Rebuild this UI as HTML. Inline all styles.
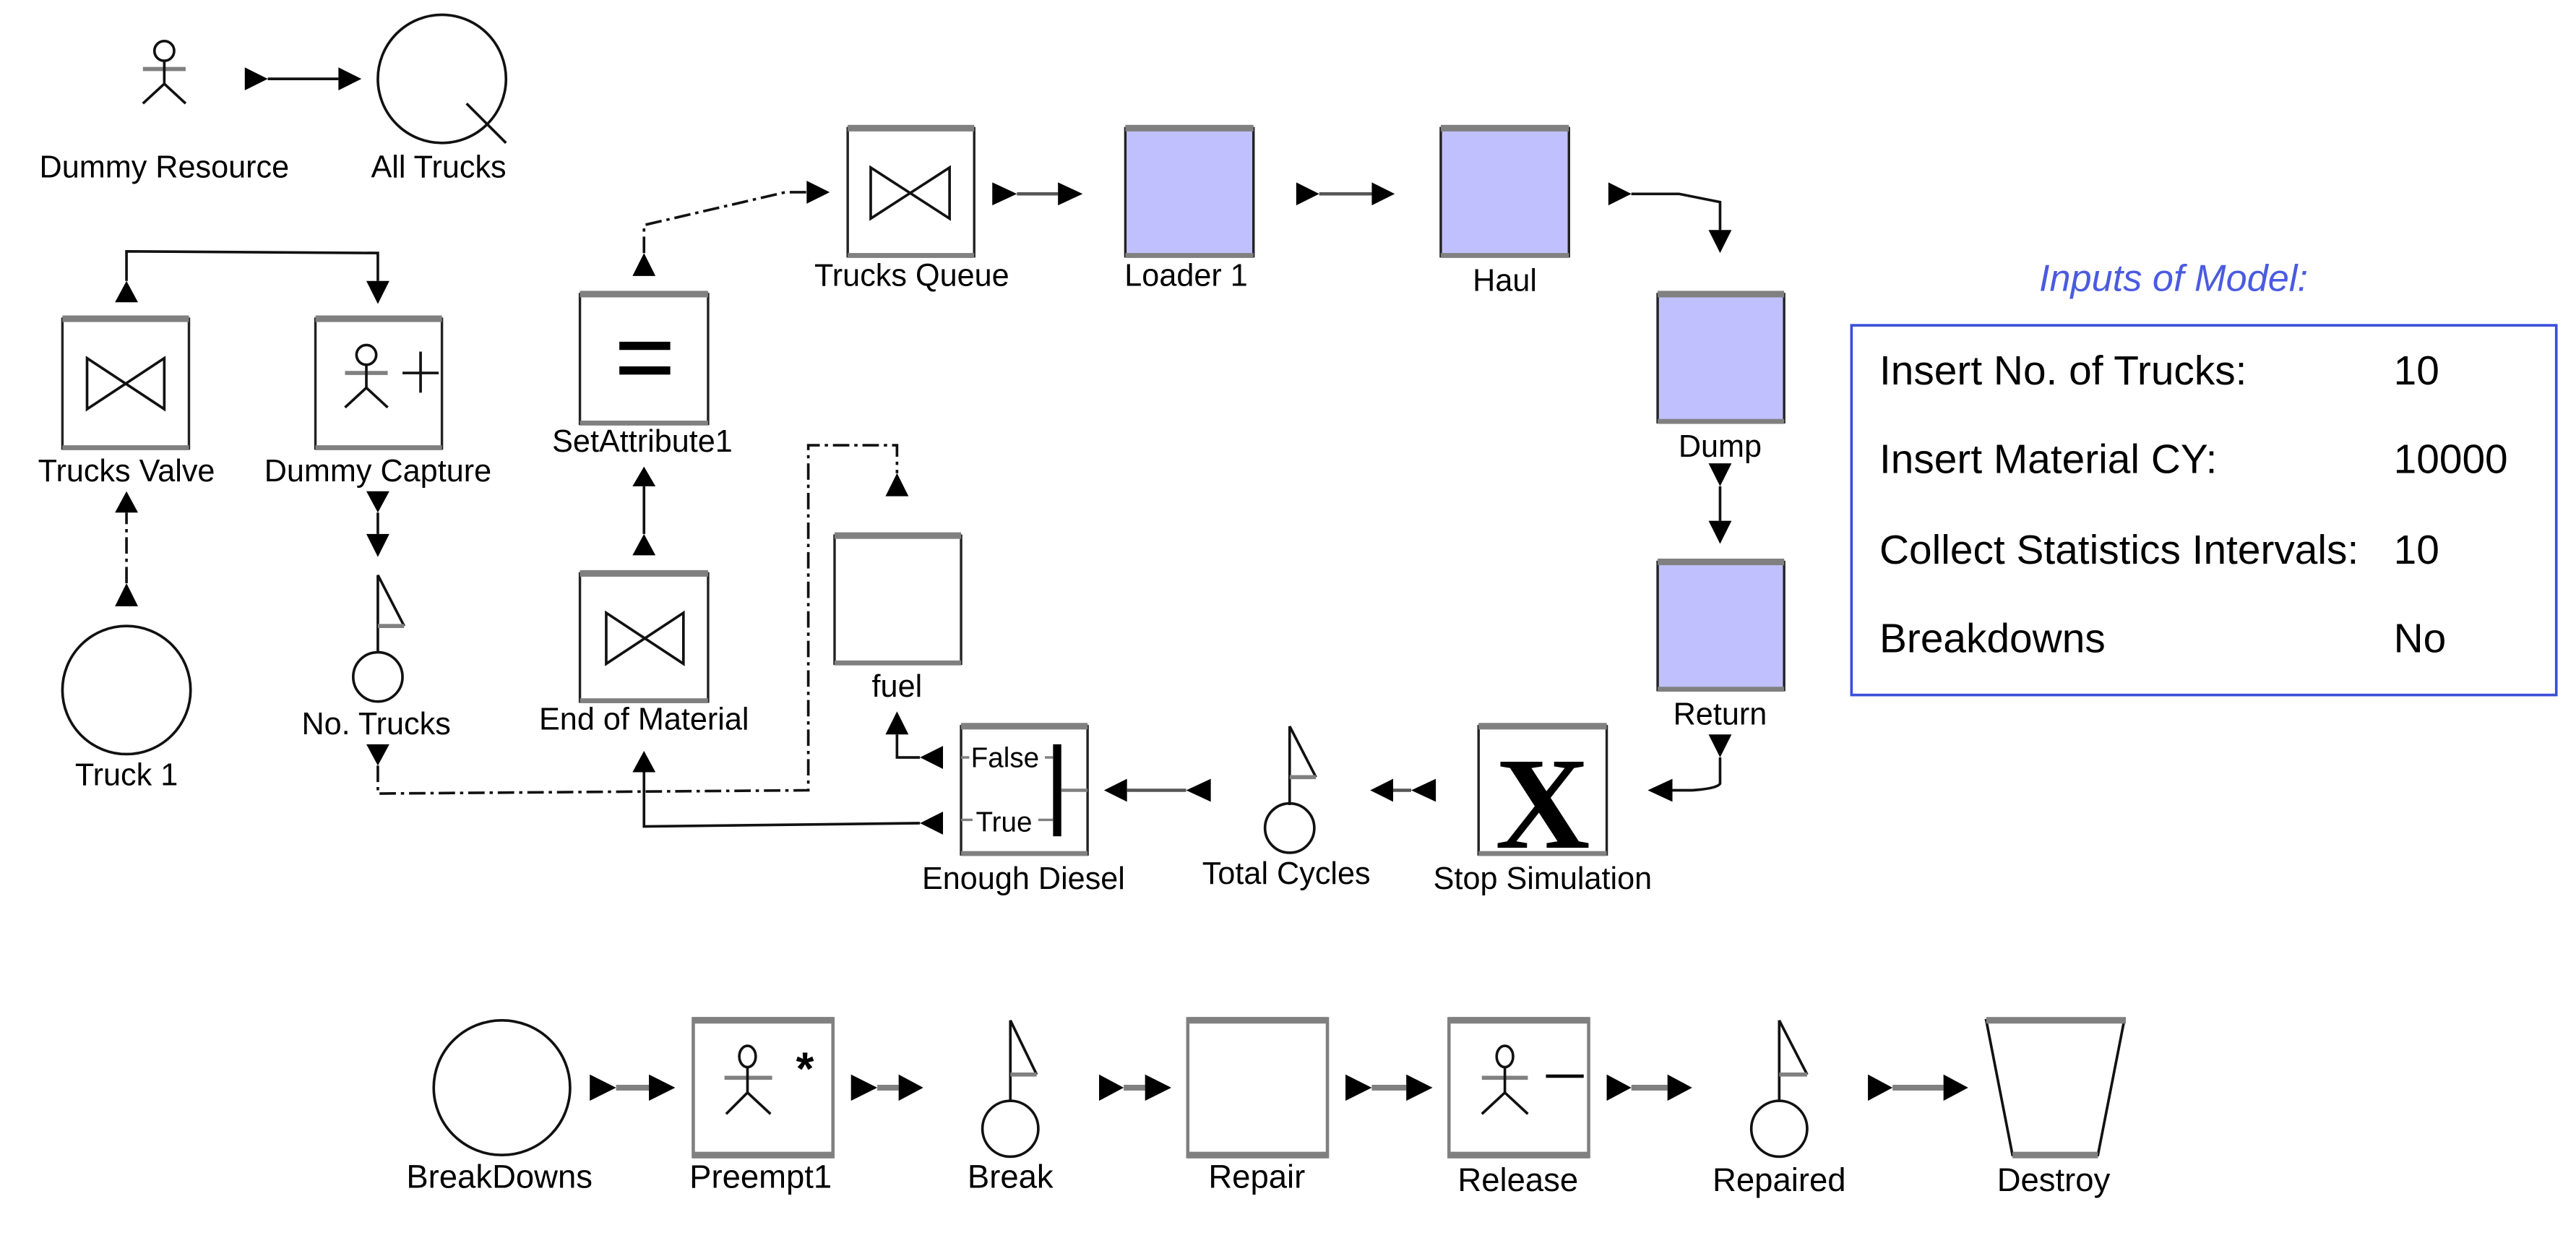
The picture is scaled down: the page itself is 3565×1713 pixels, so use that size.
<!DOCTYPE html>
<html><head><meta charset="utf-8">
<style>
html,body{margin:0;padding:0;background:#fff;}
svg{display:block;}
text{font-family:"Liberation Sans",Arial,sans-serif;fill:#000;}
</style></head>
<body>
<svg width="3565" height="1713" viewBox="0 0 1568 753.5" preserveAspectRatio="none" xmlns="http://www.w3.org/2000/svg">
<defs>
<style>
.ln{stroke:#111;stroke-width:1.6;fill:none}
.dd{stroke:#111;stroke-width:1.6;fill:none;stroke-dasharray:10 3 2 3}
.g{stroke:#808080;stroke-width:3.5;fill:none}
.bx{fill:#fff;stroke:#222;stroke-width:1.5}
.pb{fill:#c0c0ff;stroke:#222;stroke-width:1.5}
.tb{fill:#808080}
.lb{font-size:19px;text-anchor:middle}
.lb2{font-size:20px;text-anchor:middle}
.tri{fill:#000}
</style>
</defs>

<!-- Dummy Resource -->
<circle cx="100" cy="31" r="6" class="ln" stroke-width="1.2"/>
<line x1="87" y1="42" x2="113" y2="42" stroke="#808080" stroke-width="2.5"/>
<line x1="100" y1="37" x2="100" y2="51" class="ln" stroke-width="1.2"/>
<polyline points="87,63 100,51 113,63" class="ln" stroke-width="1.2"/>
<text x="100" y="108" class="lb">Dummy Resource</text>
<polygon class="tri" points="149,41 163,48 149,55"/>
<line x1="163" y1="48" x2="206" y2="48" class="ln"/>
<polygon class="tri" points="206,41 220,48 206,55"/>
<circle cx="269" cy="48" r="39" class="ln" stroke-width="1.3"/>
<line x1="284" y1="63" x2="308" y2="87" class="ln" stroke-width="1.3"/>
<text x="267" y="108" class="lb">All Trucks</text>

<!-- Valve / Capture connector -->
<polyline points="77,171 77,153 230,154 230,171" class="ln"/>
<polygon class="tri" points="70,184 77,171 84,184"/>
<polygon class="tri" points="223,171 230,185 237,171"/>

<!-- Trucks Valve -->
<rect x="38" y="194" width="77" height="79" class="bx"/>
<rect x="38" y="192" width="77" height="4" class="tb"/><rect x="38" y="271" width="77" height="3" class="tb"/>
<path d="M53 218 L53 249 L100 218 L100 249 Z" class="ln" stroke-width="1.3"/>
<text x="77" y="293" class="lb">Trucks Valve</text>

<!-- Dummy Capture -->
<rect x="192" y="194" width="77" height="79" class="bx"/>
<rect x="192" y="192" width="77" height="4" class="tb"/><rect x="192" y="271" width="77" height="3" class="tb"/>
<circle cx="223" cy="216" r="6" class="ln" stroke-width="1.2"/>
<line x1="210" y1="227" x2="236" y2="227" stroke="#808080" stroke-width="2.5"/>
<line x1="223" y1="222" x2="223" y2="236" class="ln" stroke-width="1.2"/>
<polyline points="210,248 223,236 236,248" class="ln" stroke-width="1.2"/>
<line x1="245" y1="227" x2="267" y2="227" class="ln" stroke-width="1.4"/>
<line x1="256" y1="214" x2="256" y2="239" class="ln" stroke-width="1.4"/>
<text x="230" y="293" class="lb">Dummy Capture</text>

<!-- Capture -> No. Trucks -->
<polygon class="tri" points="223,299 237,299 230,312"/>
<line x1="230" y1="312" x2="230" y2="325" class="ln"/>
<polygon class="tri" points="223,325 237,325 230,339"/>

<!-- No. Trucks -->
<line x1="230" y1="350" x2="230" y2="397" class="ln" stroke-width="1.3"/>
<polyline points="230,350 246,381" class="ln" stroke-width="1.2"/>
<line x1="230" y1="381" x2="246" y2="381" stroke="#808080" stroke-width="2.5"/>
<circle cx="230" cy="412" r="15" class="ln" stroke-width="1.3"/>
<text x="229" y="447" class="lb">No. Trucks</text>
<polygon class="tri" points="223,453 237,453 230,466"/>
<path d="M230 466 L230 483 L492 481 L492 271 L546 271 L546 288" class="dd"/>
<polygon class="tri" points="539,302 546,288 553,302"/>

<!-- Truck 1 -->
<circle cx="77" cy="420" r="39" class="ln" stroke-width="1.3"/>
<text x="77" y="478" class="lb">Truck 1</text>
<polygon class="tri" points="70,369 77,355 84,369"/>
<line x1="77" y1="355" x2="77" y2="312" class="dd"/>
<polygon class="tri" points="70,312 77,299 84,312"/>

<!-- SetAttribute1 -->
<rect x="353" y="179" width="78" height="79" class="bx"/>
<rect x="353" y="177" width="78" height="4" class="tb"/><rect x="353" y="256" width="78" height="3" class="tb"/>
<rect x="377" y="208" width="31" height="5" fill="#000"/>
<rect x="377" y="223" width="31" height="5" fill="#000"/>
<text x="391" y="275" class="lb">SetAttribute1</text>
<polygon class="tri" points="385,168 392,154 399,168"/>
<path d="M392 154 L392 137 L478 117 L491 117" class="dd"/>
<polygon class="tri" points="491,110 505,117 491,124"/>

<!-- EoM -> SetAttribute -->
<polygon class="tri" points="385,296 392,284 399,296"/>
<line x1="392" y1="296" x2="392" y2="325" class="ln"/>
<polygon class="tri" points="385,338 392,325 399,338"/>

<!-- End of Material -->
<rect x="353" y="349" width="78" height="78" class="bx"/>
<rect x="353" y="347" width="78" height="4" class="tb"/><rect x="353" y="425" width="78" height="3" class="tb"/>
<path d="M369 373 L369 404 L416 373 L416 404 Z" class="ln" stroke-width="1.3"/>
<text x="392" y="444" class="lb">End of Material</text>
<polygon class="tri" points="385,470 392,457 399,470"/>
<path d="M392 470 L392 503 L560 501" class="ln"/>

<!-- Enough Diesel -->
<rect x="585" y="442" width="77" height="78" class="bx"/>
<rect x="585" y="440" width="77" height="4" class="tb"/><rect x="585" y="518" width="77" height="3" class="tb"/>
<rect x="641" y="453" width="5" height="56" fill="#000"/>
<line x1="646" y1="481" x2="662" y2="481" stroke="#808080" stroke-width="2"/>
<line x1="585" y1="461" x2="590" y2="461" stroke="#808080" stroke-width="1.5"/>
<line x1="585" y1="499" x2="592" y2="499" stroke="#808080" stroke-width="1.5"/>
<line x1="636" y1="461" x2="641" y2="461" stroke="#808080" stroke-width="1.5"/>
<line x1="632" y1="499" x2="641" y2="499" stroke="#808080" stroke-width="1.5"/>
<text x="591" y="467" font-size="17">False</text>
<text x="594" y="506" font-size="17">True</text>
<text x="623" y="541" class="lb">Enough Diesel</text>
<polygon class="tri" points="574,494 560,501 574,508"/>
<polygon class="tri" points="574,454 560,461 574,468"/>
<polyline points="560,461 546,461 546,447" class="ln"/>
<polygon class="tri" points="539,447 546,433 553,447"/>

<!-- fuel -->
<rect x="508" y="326" width="77" height="78" class="bx"/>
<rect x="508" y="324" width="77" height="4" class="tb"/><rect x="508" y="402" width="77" height="3" class="tb"/>
<text x="546" y="424" class="lb">fuel</text>

<!-- Total -> Enough -->
<polygon class="tri" points="686,474 672,481 686,488"/>
<line x1="686" y1="481" x2="722" y2="481" stroke="#555" stroke-width="2"/>
<polygon class="tri" points="737,474 722,481 737,488"/>

<!-- Total Cycles -->
<line x1="785" y1="442" x2="785" y2="490" class="ln" stroke-width="1.3"/>
<line x1="785" y1="442" x2="801" y2="473" class="ln" stroke-width="1.2"/>
<line x1="785" y1="473" x2="801" y2="473" stroke="#808080" stroke-width="2.5"/>
<circle cx="785" cy="504" r="15" class="ln" stroke-width="1.3"/>
<text x="783" y="538" class="lb">Total Cycles</text>

<!-- Stop -> Total -->
<polygon class="tri" points="848,474 834,481 848,488"/>
<polygon class="tri" points="874,474 859,481 874,488"/>
<line x1="848" y1="481" x2="859" y2="481" stroke="#555" stroke-width="2"/>

<!-- Stop Simulation -->
<rect x="900" y="442" width="78" height="78" class="bx"/>
<rect x="900" y="440" width="78" height="4" class="tb"/><rect x="900" y="518" width="78" height="3" class="tb"/>
<text x="939" y="516" font-size="80" text-anchor="middle" font-weight="bold" style="font-family:'Liberation Serif',serif">X</text>
<text x="939" y="541" class="lb">Stop Simulation</text>

<!-- Return -> Stop -->
<polygon class="tri" points="1040,447 1054,447 1047,461"/>
<path d="M1047 461 L1047 477 Q1045 480 1030 481 L1018 481" class="ln"/>
<polygon class="tri" points="1018,474 1003,481 1018,488"/>

<!-- Trucks Queue -->
<rect x="516" y="78" width="77" height="78" class="bx"/>
<rect x="516" y="76" width="77" height="4" class="tb"/><rect x="516" y="154" width="77" height="3" class="tb"/>
<path d="M530 102 L530 133 L578 102 L578 133 Z" class="ln" stroke-width="1.3"/>
<text x="555" y="174" class="lb">Trucks Queue</text>
<polygon class="tri" points="604,111 619,118 604,125"/>
<line x1="619" y1="118" x2="644" y2="118" stroke="#555" stroke-width="2"/>
<polygon class="tri" points="644,111 659,118 644,125"/>

<!-- Loader 1 -->
<rect x="685" y="78" width="78" height="78" class="pb"/>
<rect x="685" y="76" width="78" height="4" class="tb"/><rect x="685" y="154" width="78" height="3" class="tb"/>
<text x="722" y="174" class="lb">Loader 1</text>
<polygon class="tri" points="789,111 803,118 789,125"/>
<line x1="803" y1="118" x2="835" y2="118" stroke="#555" stroke-width="2"/>
<polygon class="tri" points="835,111 849,118 835,125"/>

<!-- Haul -->
<rect x="877" y="78" width="78" height="78" class="pb"/>
<rect x="877" y="76" width="78" height="4" class="tb"/><rect x="877" y="154" width="78" height="3" class="tb"/>
<text x="916" y="177" class="lb">Haul</text>
<polygon class="tri" points="979,111 993,118 979,125"/>
<path d="M993 118 L1022 118 L1047 123 L1047 140" class="ln"/>
<polygon class="tri" points="1040,140 1054,140 1047,154"/>

<!-- Dump -->
<rect x="1009" y="179" width="77" height="78" class="pb"/>
<rect x="1009" y="177" width="77" height="4" class="tb"/><rect x="1009" y="255" width="77" height="3" class="tb"/>
<text x="1047" y="278" class="lb">Dump</text>
<polygon class="tri" points="1040,282 1054,282 1047,296"/>
<line x1="1047" y1="296" x2="1047" y2="317" class="ln"/>
<polygon class="tri" points="1040,317 1054,317 1047,331"/>

<!-- Return -->
<rect x="1009" y="342" width="77" height="78" class="pb"/>
<rect x="1009" y="340" width="77" height="4" class="tb"/><rect x="1009" y="418" width="77" height="3" class="tb"/>
<text x="1047" y="441" class="lb">Return</text>

<!-- Inputs -->
<text x="1323" y="177" font-size="23" font-style="italic" text-anchor="middle" style="fill:#4a5be0">Inputs of Model:</text>
<rect x="1127" y="198" width="429" height="225" fill="#fff" stroke="#3b4fd8" stroke-width="1.6"/>
<g font-size="25">
<text x="1144" y="234">Insert No. of Trucks:</text><text x="1457" y="234">10</text>
<text x="1144" y="288">Insert Material CY:</text><text x="1457" y="288">10000</text>
<text x="1144" y="343">Collect Statistics Intervals:</text><text x="1457" y="343">10</text>
<text x="1144" y="397">Breakdowns</text><text x="1457" y="397">No</text>
</g>

<!-- Bottom row -->
<ellipse cx="305.5" cy="662" rx="41.5" ry="41" class="ln" stroke-width="1.3"/>
<text x="304" y="723" class="lb2">BreakDowns</text>
<polygon class="tri" points="359,654 375,662 359,670"/>
<line x1="375" y1="662" x2="395" y2="662" class="g"/>
<polygon class="tri" points="395,654 411,662 395,670"/>

<rect x="422" y="620" width="85" height="84" fill="#fff" stroke="#808080" stroke-width="2"/>
<rect x="422" y="619" width="85" height="4" class="tb"/><rect x="422" y="701" width="85" height="4" class="tb"/>
<ellipse cx="455" cy="643" rx="5" ry="6.5" class="ln" stroke-width="1.2"/>
<line x1="441" y1="656" x2="470" y2="656" stroke="#808080" stroke-width="2.5"/>
<line x1="455" y1="650" x2="455" y2="665" class="ln" stroke-width="1.2"/>
<polyline points="442,678 455,665 469,678" class="ln" stroke-width="1.2"/>
<text x="490" y="660" font-size="28" text-anchor="middle" font-weight="bold">*</text>
<text x="463" y="723" class="lb2">Preempt1</text>
<polygon class="tri" points="518,654 534,662 518,670"/>
<line x1="534" y1="662" x2="547" y2="662" class="g"/>
<polygon class="tri" points="547,654 562,662 547,670"/>

<line x1="615" y1="621" x2="615" y2="670" class="ln" stroke-width="1.3"/>
<line x1="615" y1="621" x2="631" y2="654" class="ln" stroke-width="1.2"/>
<line x1="615" y1="654" x2="631" y2="654" stroke="#808080" stroke-width="2.5"/>
<circle cx="615" cy="687" r="17" class="ln" stroke-width="1.3"/>
<text x="615" y="723" class="lb2">Break</text>
<polygon class="tri" points="669,654 684,662 669,670"/>
<line x1="684" y1="662" x2="697" y2="662" class="g"/>
<polygon class="tri" points="697,654 713,662 697,670"/>

<rect x="723" y="620" width="85" height="84" fill="#fff" stroke="#808080" stroke-width="2"/>
<rect x="723" y="619" width="85" height="4" class="tb"/><rect x="723" y="701" width="85" height="4" class="tb"/>
<text x="765" y="723" class="lb2">Repair</text>
<polygon class="tri" points="819,654 835,662 819,670"/>
<line x1="835" y1="662" x2="856" y2="662" class="g"/>
<polygon class="tri" points="856,654 872,662 856,670"/>

<rect x="882" y="620" width="85" height="84" fill="#fff" stroke="#808080" stroke-width="2"/>
<rect x="882" y="619" width="85" height="4" class="tb"/><rect x="882" y="701" width="85" height="4" class="tb"/>
<ellipse cx="916" cy="643" rx="5" ry="6.5" class="ln" stroke-width="1.2"/>
<line x1="902" y1="656" x2="930" y2="656" stroke="#808080" stroke-width="2.5"/>
<line x1="916" y1="650" x2="916" y2="665" class="ln" stroke-width="1.2"/>
<polyline points="902,678 916,665 930,678" class="ln" stroke-width="1.2"/>
<line x1="941" y1="655" x2="964" y2="655" stroke="#000" stroke-width="2"/>
<text x="924" y="725" class="lb2">Release</text>
<polygon class="tri" points="978,654 993,662 978,670"/>
<line x1="993" y1="662" x2="1015" y2="662" class="g"/>
<polygon class="tri" points="1015,654 1030,662 1015,670"/>

<line x1="1083" y1="621" x2="1083" y2="670" class="ln" stroke-width="1.3"/>
<line x1="1083" y1="621" x2="1100" y2="654" class="ln" stroke-width="1.2"/>
<line x1="1083" y1="654" x2="1100" y2="654" stroke="#808080" stroke-width="2.5"/>
<circle cx="1083" cy="687" r="17" class="ln" stroke-width="1.3"/>
<text x="1083" y="725" class="lb2">Repaired</text>
<polygon class="tri" points="1137,654 1152,662 1137,670"/>
<line x1="1152" y1="662" x2="1183" y2="662" class="g"/>
<polygon class="tri" points="1183,654 1198,662 1183,670"/>

<polygon points="1209,621 1293,621 1277,703 1225,703" fill="#fff" class="ln" stroke-width="1.3"/>
<rect x="1209" y="619" width="85" height="4" class="tb"/><rect x="1225" y="701" width="52" height="4" class="tb"/>
<text x="1250" y="725" class="lb2">Destroy</text>
</svg>
</body></html>
